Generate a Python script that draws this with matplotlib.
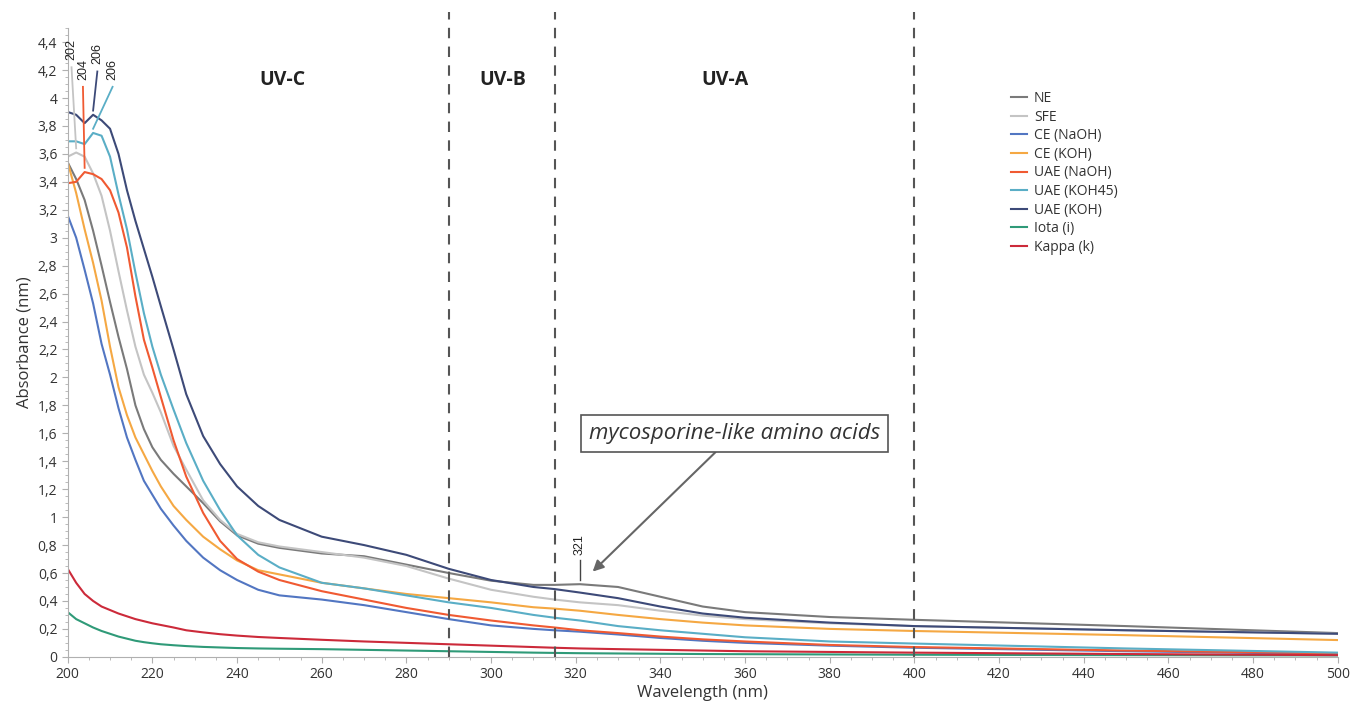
import matplotlib
matplotlib.use('Agg')
import matplotlib.pyplot as plt
from matplotlib.ticker import MultipleLocator, FuncFormatter

plt.rcParams['font.family'] = ['Open Sans', 'DejaVu Sans']

wavelength = [200, 202, 204, 206, 208, 210, 212, 214, 216, 218, 220, 222, 225, 228, 232, 236,
              240, 245, 250, 260, 270, 280, 290, 300, 310, 315, 321, 330, 340, 350, 360, 380,
              400, 450, 500]

ne = [3.54, 3.42, 3.27, 3.05, 2.80, 2.54, 2.29, 2.06, 1.80, 1.63, 1.50, 1.41, 1.31, 1.22, 1.10, 0.97,
      0.87, 0.81, 0.78, 0.74, 0.72, 0.66, 0.60, 0.545, 0.515, 0.515, 0.52, 0.50, 0.43, 0.36, 0.32, 0.285,
      0.265, 0.22, 0.17]
sfe = [3.58, 3.61, 3.58, 3.46, 3.30, 3.05, 2.76, 2.48, 2.22, 2.02, 1.89, 1.75, 1.51, 1.34, 1.12, 0.98,
       0.88, 0.82, 0.79, 0.75, 0.71, 0.65, 0.56, 0.48, 0.43, 0.41, 0.39, 0.37, 0.33, 0.295, 0.27, 0.24,
       0.22, 0.19, 0.165]
ce_naoh = [3.16, 3.00, 2.77, 2.53, 2.24, 2.02, 1.78, 1.57, 1.41, 1.26, 1.16, 1.06, 0.94, 0.83, 0.71, 0.62,
           0.55, 0.48, 0.44, 0.41, 0.37, 0.32, 0.27, 0.225, 0.20, 0.19, 0.18, 0.16, 0.135, 0.115, 0.10, 0.08,
           0.065, 0.04, 0.02]
ce_koh = [3.54, 3.32, 3.06, 2.82, 2.55, 2.22, 1.93, 1.73, 1.57, 1.45, 1.33, 1.22, 1.08, 0.98, 0.86, 0.77,
          0.69, 0.62, 0.59, 0.53, 0.49, 0.45, 0.42, 0.39, 0.355, 0.345, 0.33, 0.30, 0.27, 0.245, 0.225, 0.20,
          0.185, 0.155, 0.12]
uae_naoh = [3.39, 3.40, 3.47, 3.455, 3.42, 3.34, 3.18, 2.93, 2.58, 2.27, 2.07, 1.86, 1.55, 1.29, 1.03, 0.83,
            0.70, 0.61, 0.55, 0.47, 0.41, 0.35, 0.30, 0.26, 0.225, 0.21, 0.19, 0.17, 0.145, 0.125, 0.11, 0.085,
            0.07, 0.045, 0.025]
uae_koh45 = [3.69, 3.69, 3.67, 3.75, 3.73, 3.58, 3.31, 3.06, 2.75, 2.46, 2.22, 2.02, 1.77, 1.53, 1.26, 1.05,
             0.87, 0.73, 0.64, 0.53, 0.49, 0.44, 0.39, 0.35, 0.30, 0.28, 0.26, 0.22, 0.19, 0.165, 0.14, 0.11,
             0.095, 0.06, 0.03]
uae_koh = [3.90, 3.88, 3.82, 3.88, 3.84, 3.78, 3.60, 3.34, 3.12, 2.92, 2.72, 2.51, 2.20, 1.88, 1.58, 1.38,
           1.22, 1.08, 0.98, 0.86, 0.80, 0.73, 0.63, 0.55, 0.50, 0.485, 0.46, 0.42, 0.36, 0.31, 0.28, 0.245,
           0.22, 0.19, 0.165]
iota = [0.32, 0.27, 0.24, 0.21, 0.185, 0.165, 0.145, 0.13, 0.115, 0.105, 0.097, 0.09, 0.083, 0.077, 0.071, 0.067,
        0.063, 0.06, 0.058, 0.055, 0.05, 0.045, 0.04, 0.035, 0.03, 0.028, 0.026, 0.024, 0.022, 0.02, 0.019, 0.017,
        0.015, 0.012, 0.01]
kappa = [0.63, 0.53, 0.45, 0.40, 0.36, 0.335, 0.31, 0.29, 0.27, 0.255, 0.24, 0.228, 0.21, 0.19, 0.175, 0.162,
         0.152, 0.142, 0.135, 0.122, 0.11, 0.10, 0.09, 0.08, 0.07, 0.065, 0.06, 0.055, 0.05, 0.045, 0.04, 0.035,
         0.03, 0.02, 0.012]

labels = ['NE', 'SFE', 'CE (NaOH)', 'CE (KOH)', 'UAE (NaOH)', 'UAE (KOH45)', 'UAE (KOH)', 'Iota (i)', 'Kappa (k)']
colors = ['#7a7a7a', '#c4c4c4', '#5276c2', '#f5a843', '#f05a32', '#5aaec6', '#3d4a78', '#2f9a78', '#cc2a3a']
series = [ne, sfe, ce_naoh, ce_koh, uae_naoh, uae_koh45, uae_koh, iota, kappa]

# peak labels: (wavelength, series index)
peaks = [(202, 1), (204, 4), (206, 6), (206, 5)]
mma_peak = 321

bands = [290, 315, 400]
band_names = ['UV-C', 'UV-B', 'UV-A']
band_label_x = [250.8, 302.8, 355.2]

fig = plt.figure(figsize=(13.54, 7.04), dpi=100)
ax = fig.add_axes([0.050, 0.067, 0.938, 0.893])

for vals, lab, col in zip(series, labels, colors):
    ax.plot(wavelength, vals, color=col, lw=1.5, label=lab)

ax.set_xlim(200, 500)
ax.set_ylim(0, 4.5)
ax.xaxis.set_major_locator(MultipleLocator(20))
ax.xaxis.set_minor_locator(MultipleLocator(5))
ax.yaxis.set_major_locator(MultipleLocator(0.2))
ax.yaxis.set_minor_locator(MultipleLocator(0.05))
ax.yaxis.set_major_formatter(FuncFormatter(lambda v, p: ('%g' % round(v, 2)).replace('.', ',') if v <= 4.41 else ''))
for s in ['top', 'right']:
    ax.spines[s].set_visible(False)
for s in ['left', 'bottom']:
    ax.spines[s].set_color('#b0b0b0')
ax.tick_params(which='both', colors='#b0b0b0', labelcolor='#333333', labelsize=10)
ax.tick_params(which='major', length=4)
ax.tick_params(which='minor', length=2)

ax.set_xlabel('Wavelength (nm)', fontsize=12, color='#333333', labelpad=2)
ax.set_ylabel('Absorbance (nm)', fontsize=12, color='#333333', labelpad=4)

for b in bands:
    ax.axvline(b, ymin=0, ymax=1.025, color='#555555', lw=1.5, ls=(0, (5, 4)), clip_on=False)
for x, name in zip(band_label_x, band_names):
    ax.text(x, 4.13, name, ha='center', va='center', fontsize=14, fontweight='bold', color='#222222')

# peak markers on the short-wavelength side
label_off = {0: (200.9, 4.22, 4.27), 1: (203.6, 4.08, 4.13), 2: (207.0, 4.19, 4.24), 3: (210.6, 4.08, 4.13)}
for i, (wl, idx) in enumerate(peaks):
    lx, ly_line, ly_text = label_off[i]
    py = series[idx][wavelength.index(wl)]
    ax.plot([lx, wl], [ly_line, py + 0.03], color=colors[idx], lw=1.3)
    ax.text(lx, ly_text, str(wl), rotation=90, ha='center', va='bottom', fontsize=9,
            family=['Liberation Sans', 'DejaVu Sans'], color='#222222', clip_on=False)

ne_321 = ne[wavelength.index(mma_peak)]
ax.plot([mma_peak, mma_peak], [ne_321 + 0.03, ne_321 + 0.17], color='#444444', lw=1)
ax.text(mma_peak, ne_321 + 0.21, str(mma_peak), rotation=90, ha='center', va='bottom', fontsize=9,
        family=['Liberation Sans', 'DejaVu Sans'], color='#222222')

ax.annotate('mycosporine-like amino acids', xy=(324, 0.61), xytext=(357.6, 1.6),
            ha='center', va='center', fontsize=16, fontstyle='italic', color='#333333',
            bbox=dict(boxstyle='square,pad=0.35', fc='white', ec='#555555', lw=1.2),
            arrowprops=dict(arrowstyle='-|>', color='#666666', lw=1.5, mutation_scale=16,
                            shrinkA=0, shrinkB=0))

leg = ax.legend(loc='upper left', bbox_to_anchor=(0.733, 0.92), frameon=False, fontsize=10,
                handlelength=1.15, handletextpad=0.5, labelspacing=0.26)
for t in leg.get_texts():
    t.set_color('#333333')

fig.savefig('out.png', dpi=100)
